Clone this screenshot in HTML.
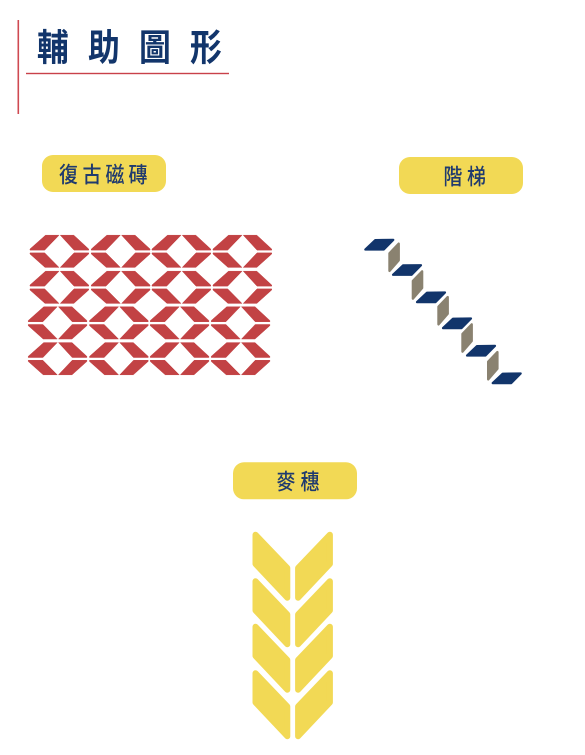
<!DOCTYPE html>
<html lang="zh-Hant">
<head>
<meta charset="utf-8">
<title>輔助圖形</title>
<style>
html,body{margin:0;padding:0;background:#fff;width:585px;height:755px;overflow:hidden}
svg{display:block}
text{font-family:"Liberation Sans","Noto Sans CJK TC",sans-serif}
</style>
</head>
<body>
<svg id="art" xmlns="http://www.w3.org/2000/svg" width="585" height="755" viewBox="0 0 585 755">
  <rect x="17.5" y="20" width="1.6" height="94" fill="#cf4a52"/>
  <rect x="26" y="72.8" width="203" height="1.4" fill="#c9414a"/>
  <g fill="#12356b" font-weight="700" font-size="37">
    <text transform="translate(37 60.5) scale(.86 1)">輔</text>
    <text transform="translate(88 60.5) scale(.86 1)">助</text>
    <text transform="translate(139 60.5) scale(.86 1)">圖</text>
    <text transform="translate(190 60.5) scale(.86 1)">形</text>
  </g>

  <rect x="42" y="155" width="124" height="37" rx="11" fill="#f2d955"/>
  <g fill="#1f3a6e" font-size="22" font-weight="500">
    <text transform="translate(59 182.5) scale(.86 1)">復</text>
    <text transform="translate(82.5 182.5) scale(.86 1)">古</text>
    <text transform="translate(105.5 182.5) scale(.86 1)">磁</text>
    <text transform="translate(128.5 182.5) scale(.86 1)">磚</text>
  </g>

  <rect x="399" y="157" width="124" height="37" rx="11" fill="#f2d955"/>
  <g fill="#1f3a6e" font-size="22" font-weight="500">
    <text transform="translate(443.5 184.5) scale(.86 1)">階</text>
    <text transform="translate(467 184.5) scale(.86 1)">梯</text>
  </g>

  <rect x="233" y="462.3" width="124" height="37" rx="11" fill="#f2d955"/>
  <g fill="#1f3a6e" font-size="22" font-weight="500">
    <text transform="translate(276.5 489.5) scale(.86 1)">麥</text>
    <text transform="translate(300.5 489.5) scale(.86 1)">穗</text>
  </g>

  <g id="tiles" fill="#c24244" stroke="#c24244" stroke-width=".5" stroke-linejoin="round"></g>
  <g id="stairs"></g>
  <g id="wheat" fill="#f2d955" stroke="#f2d955" stroke-width="6" stroke-linejoin="round"></g>
</svg>
<script>
var NS = 'http://www.w3.org/2000/svg';
function mk(parent, pts, x, y) {
  var p = document.createElementNS(NS, 'polygon');
  p.setAttribute('points', pts);
  p.setAttribute('transform', 'translate(' + x + ' ' + y + ')');
  parent.appendChild(p);
  return p;
}

/* retro tile */
var tileRowTops = [235, 271, 306.6, 342.4];
var tileRowShift = [0, 0, -1.8, -1.8];
var tileColLefts = [30, 91.3, 152, 213];
var tileShapes = [
  '0,14 15.5,.2 29,.2 14.7,15.1 0,15.1',
  '30.3,.2 43.8,.2 58.7,14 58.7,15.1 44,15.1',
  '0,17.9 14.7,17.9 29,32.4 15,32.4 0,19',
  '58.7,17.9 44,17.9 30.3,32.4 43.8,32.4 58.7,19'
];
var tilesGroup = document.getElementById('tiles');
tileRowTops.forEach(function (top, r) {
  tileColLefts.forEach(function (left) {
    tileShapes.forEach(function (pts) {
      var el = mk(tilesGroup, pts, left + tileRowShift[r], top);
      
      
    });
  });
});

/* stairs */
var blueSteps = [[363.3,250.7],[391,276],[415,303.3],[441,329.3],[465,356.7],[490.7,384.3]];
var tanSteps = [[388.3,272.3],[411.7,300],[437.3,325.7],[461.3,353],[487,380.7]];
var stairsGroup = document.getElementById('stairs');
blueSteps.forEach(function (s) {
  var el = mk(stairsGroup, '2,-1.2 12,-10.6 30,-10.8 20.5,-1.2', s[0], s[1]);
  el.setAttribute('fill', '#12356b');
  el.setAttribute('stroke', '#12356b');
  el.setAttribute('stroke-width', '2.2');
  el.setAttribute('stroke-linejoin', 'round');
  
  
});
tanSteps.forEach(function (s) {
  var el = mk(stairsGroup, '1.2,-1.4 1.2,-19 10.4,-28.6 10.4,-12', s[0], s[1]);
  el.setAttribute('fill', '#8a8270');
  el.setAttribute('stroke', '#8a8270');
  el.setAttribute('stroke-width', '2.4');
  el.setAttribute('stroke-linejoin', 'round');
  
  
});

/* wheat */
var wheatTops = [532, 578.5, 624, 670.5];
var wheatLeft = '255.5,2.7 287.3,36 287.3,65.7 255.5,32';
var wheatRight = '329.9,2.7 298.1,36 298.1,65.7 329.9,32';
var wheatGroup = document.getElementById('wheat');
wheatTops.forEach(function (top) {
  var l = mk(wheatGroup, wheatLeft, 0, top);
  
  
  var r = mk(wheatGroup, wheatRight, 0, top);
  
  
});
</script>
</body>
</html>
